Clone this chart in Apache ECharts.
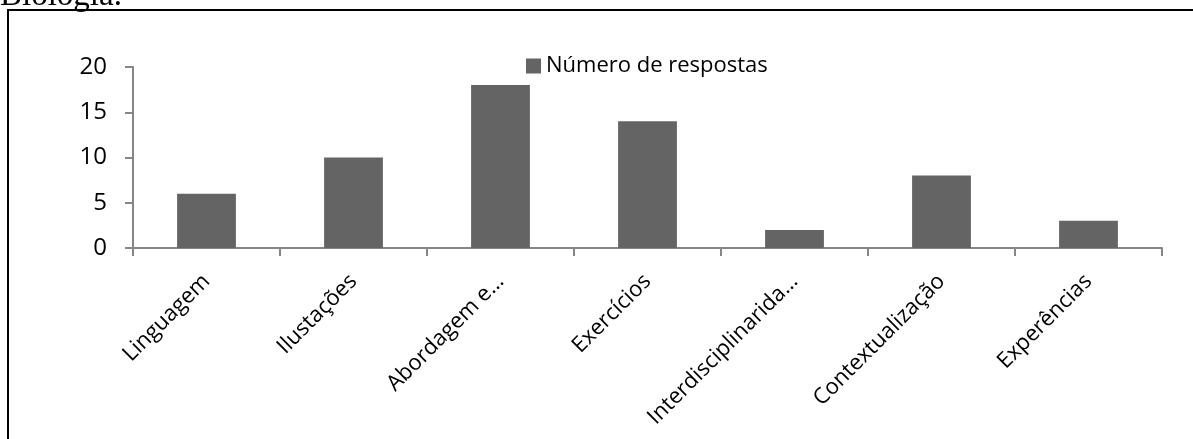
<!DOCTYPE html>
<html>
<head>
<meta charset="utf-8">
<script src="https://cdn.jsdelivr.net/npm/echarts@6/dist/echarts.min.js"></script>
<style>
  html, body { margin: 0; padding: 0; background: #fff; }
  #chart { width: 1193px; height: 439px; }
</style>
</head>
<body>
<div id="chart"></div>
<script>
// Categories as they appear on the axis
const categories = ['Linguagem', 'Ilustações', 'Abordagem e…', 'Exercícios', 'Interdisciplinarida…', 'Contextualização', 'Experências'];
// Number of answers per category
const respostas = [6, 10, 18, 14, 2, 8, 3];
const seriesName = 'Número de respostas';
const yTicks = { min: 0, max: 20, interval: 5 };

const uiFont = '"Open Sans", "Noto Sans", sans-serif';
const axisGray = '#868686';
const barGray = '#646464';

const chart = echarts.init(document.getElementById('chart'));
chart.setOption({
  animation: false,
  backgroundColor: '#fff',
  graphic: [
    {
      type: 'rect',
      shape: { x: 8, y: 10, width: 1300, height: 600 },
      style: { fill: 'none', stroke: '#000', lineWidth: 2 },
      silent: true
    },
    {
      type: 'text',
      x: 0,
      y: 13,
      style: { text: 'Biologia.', font: '33px "Liberation Serif", serif', fill: '#000', verticalAlign: 'bottom' },
      silent: true
    }
  ],
  legend: {
    data: [seriesName],
    left: 521,
    top: 50,
    itemWidth: 15,
    itemHeight: 15,
    itemGap: 7,
    icon: 'rect',
    textStyle: { fontFamily: uiFont, fontSize: 22, color: '#000' }
  },
  grid: { left: 133, right: 31, top: 67, bottom: 191, containLabel: false },
  xAxis: {
    type: 'category',
    data: categories,
    boundaryGap: true,
    axisLine: { lineStyle: { color: axisGray, width: 2 } },
    axisTick: { show: true, length: 8, alignWithLabel: false, interval: 0, lineStyle: { color: axisGray, width: 2 } },
    axisLabel: {
      interval: 0,
      rotate: 45,
      margin: 30,
      fontFamily: uiFont,
      fontSize: 22,
      color: '#000'
    }
  },
  yAxis: {
    type: 'value',
    min: yTicks.min,
    max: yTicks.max,
    interval: yTicks.interval,
    splitLine: { show: false },
    axisLine: { show: true, lineStyle: { color: axisGray, width: 2 } },
    axisTick: { show: true, length: 8, lineStyle: { color: axisGray, width: 2 } },
    axisLabel: { margin: 26, fontFamily: uiFont, fontSize: 24, color: '#000' }
  },
  series: [{
    name: seriesName,
    type: 'bar',
    data: respostas,
    barWidth: '40%',
    itemStyle: { color: barGray }
  }]
});
</script>
</body>
</html>
